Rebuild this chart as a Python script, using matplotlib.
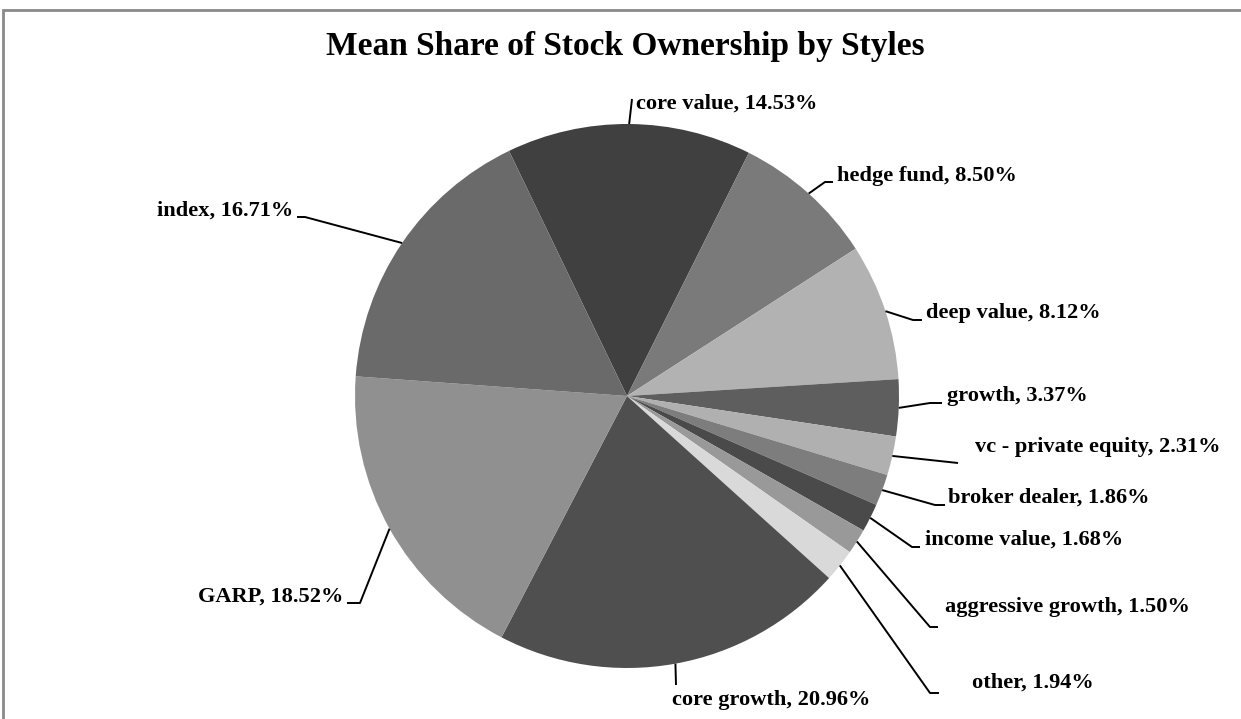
import matplotlib.pyplot as plt
from matplotlib.patches import Rectangle
import numpy as np

# data, clockwise from the top
styles = ['core value', 'hedge fund', 'deep value', 'growth', 'vc - private equity',
          'broker dealer', 'income value', 'aggressive growth', 'other',
          'core growth', 'GARP', 'index']
shares = [14.53, 8.50, 8.12, 3.37, 2.31, 1.86, 1.68, 1.50, 1.94, 20.96, 18.52, 16.71]
colors = ['#404040', '#7a7a7a', '#b2b2b2', '#5e5e5e', '#b0b0b0', '#7d7d7d',
          '#4a4a4a', '#999999', '#d9d9d9', '#4f4f4f', '#909090', '#6a6a6a']

W, H = 1241, 719
# label layout in pixels (y from top): text anchor, elbow, end of the short tick
label_xy = [(636, 104, 'left'), (837, 176, 'left'), (926, 313, 'left'), (947, 396, 'left'),
            (975, 447, 'left'), (948, 498, 'left'), (925, 540, 'left'), (945, 607, 'left'),
            (972, 683, 'left'), (672, 700, 'left'), (343, 597, 'right'), (293, 211, 'right')]
elbows = [(632, 99), (825, 182), (913, 320), (930, 403), (958, 463), (935, 505),
          (912, 547), (930, 627), (930, 693), (676, 685), (360, 603), (305, 217)]
ticks = [None, 833, 922, 942, None, 945, 920, 938, 939, None, 347, 297]

plt.rcParams['font.family'] = ['Liberation Serif', 'DejaVu Serif']

fig = plt.figure(figsize=(W / 100, H / 100), dpi=100)
ax = fig.add_axes([0, 0, 1, 1])

cx, cy, R = 627, H - 396, 272
wedges, _ = ax.pie(shares, colors=colors, startangle=115.7, counterclock=False,
                   center=(cx, cy), radius=R, frame=True,
                   wedgeprops=dict(linewidth=0))
ax.set_xlim(0, W)
ax.set_ylim(0, H)
ax.set_aspect('auto')
ax.axis('off')

for i, w in enumerate(wedges):
    ang = np.deg2rad((w.theta1 + w.theta2) / 2)
    x0, y0 = cx + R * np.cos(ang), cy + R * np.sin(ang)
    ex, ey = elbows[i]
    xs, ys = [x0, ex], [y0, H - ey]
    if ticks[i] is not None:
        xs.append(ticks[i])
        ys.append(H - ey)
    ax.plot(xs, ys, color='black', lw=1.4, solid_capstyle='butt')
    tx, ty, ha = label_xy[i]
    ax.text(tx, H - ty, f'{styles[i]}, {shares[i]:.2f}%', ha=ha, va='center',
            fontsize=16.1, fontweight='bold')

ax.text(625, H - 46, 'Mean Share of Stock Ownership by Styles', ha='center', va='center',
        fontsize=24, fontweight='bold')

# chart frame (cut off at the right and bottom)
fig.patches.append(Rectangle((3, -20), W + 40, H - 10 + 20, transform=None,
                             fill=False, edgecolor='#8a8a8a', lw=2))

fig.savefig('out.png', dpi=100)
